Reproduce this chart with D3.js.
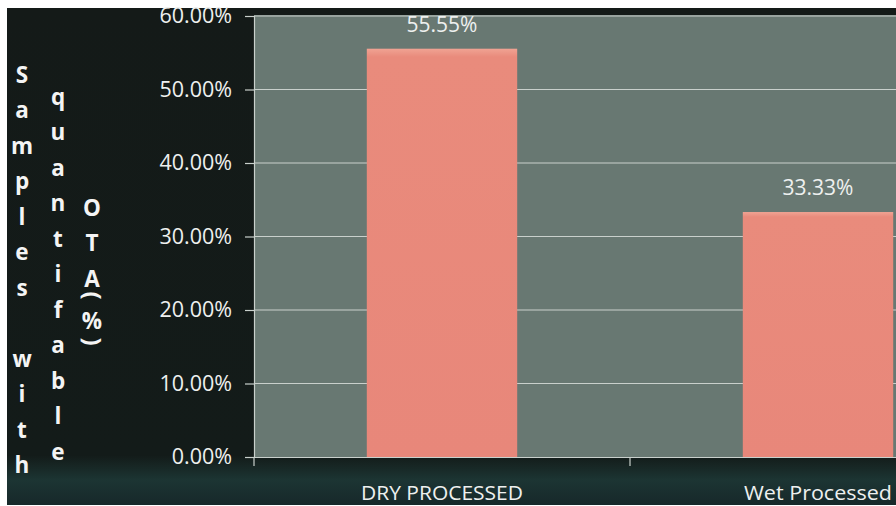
<!DOCTYPE html>
<html>
<head>
<meta charset="utf-8">
<script src="https://cdn.jsdelivr.net/npm/d3@7"></script>
<style>
  html, body { margin: 0; padding: 0; background: #fff; }
  svg { display: block; }
</style>
</head>
<body>
<div id="chart"></div>
<script>
// chart data
const categories = ['DRY PROCESSED', 'Wet Processed']
const values = [0.5555, 0.3333]
const valueLabels = ['55.55%', '33.33%']
const yTicks = [0, 0.1, 0.2, 0.3, 0.4, 0.5, 0.6]
// stacked axis title, one column per entry (spelling as in the source)
const titleColumns = ['Samples with', 'quantifable', 'OTA(%)']

const S = { w: 896, h: 506 }
const plot = { left: 254, right: 1006, top: 16, bottom: 457 }
const labelWidths = { 'DRY PROCESSED': 162, 'Wet Processed': 148 }

const svg = d3.select('#chart').append('svg')
  .attr('width', S.w).attr('height', S.h)

const defs = svg.append('defs')
const bg = defs.append('linearGradient').attr('id', 'bgGrad')
  .attr('x1', 0).attr('x2', 0).attr('y1', 0).attr('y2', 1)
bg.append('stop').attr('offset', '0%').attr('stop-color', '#141a18')
bg.append('stop').attr('offset', '90%').attr('stop-color', '#131b19')
bg.append('stop').attr('offset', '95%').attr('stop-color', '#1c3533')
bg.append('stop').attr('offset', '100%').attr('stop-color', '#17282a')

const barGrad = defs.append('linearGradient').attr('id', 'barGrad')
  .attr('x1', 0).attr('x2', 0).attr('y1', 0).attr('y2', 1)
barGrad.append('stop').attr('offset', '0%').attr('stop-color', '#f0a393')
barGrad.append('stop').attr('offset', '2%').attr('stop-color', '#e98b7c')
barGrad.append('stop').attr('offset', '100%').attr('stop-color', '#e8877a')

// outer dark frame
svg.append('rect')
  .attr('x', 7).attr('y', 8).attr('width', S.w - 7).attr('height', 497)
  .attr('fill', 'url(#bgGrad)')

const x = d3.scaleBand().domain(categories)
  .range([plot.left, plot.right])
  .paddingInner(0.6).paddingOuter(0.3)
const y = d3.scaleLinear().domain([0, 0.6]).range([plot.bottom, plot.top])

// plot area
svg.append('rect')
  .attr('x', plot.left).attr('y', y(0.6) - 1)
  .attr('width', S.w - plot.left).attr('height', y(0) - y(0.6) + 1)
  .attr('fill', '#687872')

// gridlines
svg.append('g').selectAll('line').data(yTicks.filter(d => d > 0)).join('line')
  .attr('x1', plot.left).attr('x2', S.w)
  .attr('y1', d => y(d)).attr('y2', d => y(d))
  .attr('stroke', '#c9d0cc').attr('stroke-width', 1.2)

// y axis
const yAxis = svg.append('g')
  .attr('transform', `translate(${plot.left},0)`)
  .call(d3.axisLeft(y).tickValues(yTicks).tickFormat(d3.format('.2%'))
    .tickSize(9).tickPadding(13))
yAxis.select('.domain').attr('stroke', '#c9d0cc').attr('stroke-width', 1.2)
yAxis.selectAll('.tick line').attr('stroke', '#c9d0cc').attr('stroke-width', 1.2)
yAxis.selectAll('.tick text')
  .attr('fill', '#eef0ef')
  .style('font-family', 'Open Sans, sans-serif')
  .style('font-size', '21.5px')

// x axis
const xAxis = svg.append('g')
  .attr('transform', `translate(0,${plot.bottom})`)
  .call(d3.axisBottom(x).tickSize(0).tickPadding(29))
xAxis.select('.domain').attr('stroke', '#c9d0cc').attr('stroke-width', 1.2)
xAxis.selectAll('.tick text')
  .attr('fill', '#eef0ef')
  .style('font-family', 'Open Sans, sans-serif')
  .style('font-size', '20px')
  .attr('textLength', d => labelWidths[d]).attr('lengthAdjust', 'spacingAndGlyphs')
// category separators
const step = x.step()
const bounds = d3.range(categories.length + 1).map(i => plot.left + i * step)
svg.append('g').selectAll('line').data(bounds).join('line')
  .attr('x1', d => d).attr('x2', d => d)
  .attr('y1', plot.bottom).attr('y2', plot.bottom + 9)
  .attr('stroke', '#c9d0cc').attr('stroke-width', 1.2)

// bars
const data = categories.map((c, i) => ({ c, v: values[i], label: valueLabels[i] }))
svg.append('g').selectAll('rect').data(data).join('rect')
  .attr('x', d => x(d.c)).attr('width', x.bandwidth())
  .attr('y', d => y(d.v)).attr('height', d => y(0) - y(d.v))
  .attr('fill', 'url(#barGrad)')

// value labels
svg.append('g').selectAll('text').data(data).join('text')
  .attr('x', d => x(d.c) + x.bandwidth() / 2)
  .attr('y', d => y(d.v) - 17)
  .attr('text-anchor', 'middle')
  .attr('fill', '#eef0ef')
  .style('font-family', 'Open Sans, sans-serif')
  .style('font-size', '21px')
  .text(d => d.label)

// stacked y title: letters one under another, brackets turned sideways
const colX = [22, 58, 92]
const colY0 = [75, 97, 208]
const lineStep = 35.5
const advance = { '(': 26, '%': 20 }
titleColumns.forEach((txt, ci) => {
  let yy = colY0[ci]
  Array.from(txt).forEach(ch => {
    const bracket = ch === '(' || ch === ')'
    if (ch === '(') yy -= 19
    if (ch !== ' ') {
      svg.append('text')
        .attr('transform', `translate(${colX[ci]},${yy})` + (bracket ? ' rotate(90)' : ''))
        .attr('dy', '0.35em')
        .attr('text-anchor', 'middle')
        .attr('fill', '#f4f4f4')
        .style('font-family', 'Open Sans, sans-serif')
        .style('font-weight', 'bold')
        .style('font-size', bracket ? '24px' : '22.5px')
        .text(ch)
    }
    yy += advance[ch] || lineStep
  })
})
</script>
</body>
</html>
